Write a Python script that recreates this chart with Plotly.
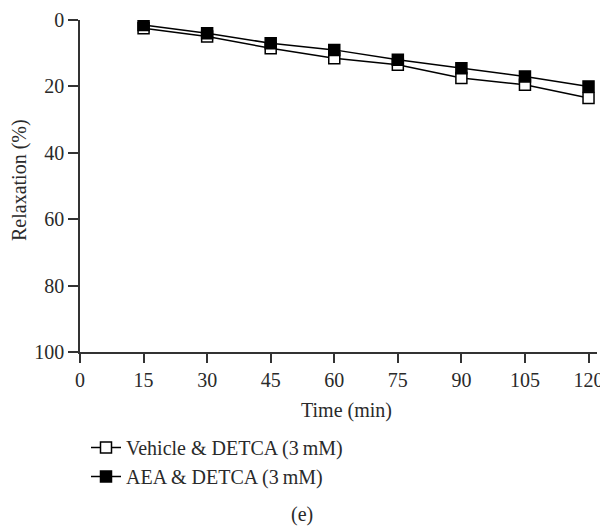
import plotly.graph_objects as go

time_min = [15, 30, 45, 60, 75, 90, 105, 120]
vehicle = [2.5, 5.0, 8.5, 11.5, 13.5, 17.5, 19.5, 23.5]
vehicle_err = [1.0, 1.0, 1.5, 1.5, 1.2, 1.5, 1.2, 1.5]
aea = [1.5, 4.0, 7.0, 9.0, 12.0, 14.5, 17.0, 20.0]
aea_err = [0.8, 0.8, 0.8, 0.8, 0.8, 0.8, 1.2, 1.0]
x_ticks = [0, 15, 30, 45, 60, 75, 90, 105, 120]
y_ticks = [0, 20, 40, 60, 80, 100]

FONT = "Liberation Serif"
FS = 20
TXT = "#2a2a2a"
AX = "#333"

# page has an 8px body margin; figure coordinates = page coordinates - 8
OFF = 8
W, H = 600, 521
L, R, T, B = 72, 11, 12, 177
PW, PH = W - L - R, H - T - B


def px(xp):
    return (xp - OFF - L) / PW


def py(yp):
    return (H - B - (yp - OFF)) / PH


def cx(xp):
    return (xp - OFF) / W


def cy(yp):
    return 1 - (yp - OFF) / H


fig = go.Figure()
fig.add_trace(go.Scatter(
    x=time_min, y=vehicle, mode="lines+markers",
    name="Vehicle & DETCA (3\u2009mM)",
    line=dict(color="black", width=1.5),
    marker=dict(symbol="square", size=11, color="white", line=dict(color="black", width=1.5)),
    error_y=dict(type="data", symmetric=False, array=vehicle_err, arrayminus=[0]*8,
                 color="black", thickness=1.5, width=5),
))
fig.add_trace(go.Scatter(
    x=time_min, y=aea, mode="lines+markers",
    name="AEA & DETCA (3\u2009mM)",
    line=dict(color="black", width=1.5),
    marker=dict(symbol="square", size=11, color="black", line=dict(color="black", width=1.5)),
    error_y=dict(type="data", symmetric=False, array=[0]*8, arrayminus=aea_err,
                 color="black", thickness=1.5, width=5),
))

fig.update_layout(
    width=W, height=H,
    margin=dict(l=L, r=R, t=T, b=B, autoexpand=False),
    paper_bgcolor="white", plot_bgcolor="white",
    font=dict(family=FONT, size=FS, color=TXT),
    showlegend=True,
    legend=dict(x=cx(86), y=cy(428), xref="container", yref="container",
                xanchor="left", yanchor="top",
                font=dict(family=FONT, size=FS, color=TXT),
                tracegroupgap=0, itemwidth=30, bgcolor="rgba(0,0,0,0)"),
    xaxis=dict(range=[0, 122], tickvals=x_ticks, ticktext=[str(v) for v in x_ticks],
               showline=True, linecolor=AX, linewidth=1.5, ticks="outside",
               ticklen=9, tickwidth=1.5, tickcolor=AX, showgrid=False, zeroline=False,
               automargin=False, ticklabeloverflow="allow"),
    yaxis=dict(range=[100, 0], tickvals=y_ticks, ticktext=[str(v) for v in y_ticks],
               showline=True, linecolor=AX, linewidth=1.5, ticks="outside",
               ticklen=10, tickwidth=1.5, tickcolor=AX, showgrid=False, zeroline=False,
               automargin=False, ticklabeloverflow="allow"),
    annotations=[
        dict(text="Time (min)", x=px(346), y=py(410), xref="paper", yref="paper",
             xanchor="center", yanchor="middle",
             showarrow=False, font=dict(family=FONT, size=FS, color=TXT)),
        dict(text="Relaxation (%)", x=px(19), y=py(180), xref="paper", yref="paper",
             xanchor="center", yanchor="middle",
             textangle=-90, showarrow=False, font=dict(family=FONT, size=FS, color=TXT)),
        dict(text="(e)", x=px(302), y=py(515), xref="paper", yref="paper",
             xanchor="center", yanchor="middle",
             showarrow=False, font=dict(family=FONT, size=FS, color=TXT)),
    ],
)

fig.write_html("out.html")
